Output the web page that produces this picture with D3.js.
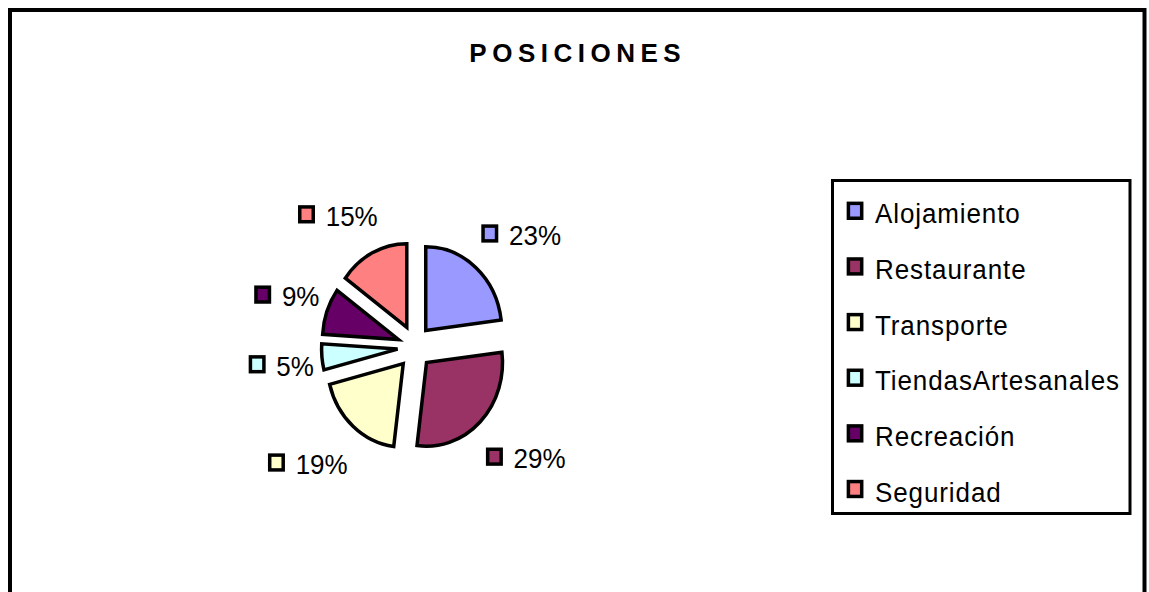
<!DOCTYPE html>
<html>
<head>
<meta charset="utf-8">
<script src="https://cdn.jsdelivr.net/npm/d3@7"></script>
<style>
  html, body { margin: 0; padding: 0; background: #fff; }
  svg { display: block; }
</style>
</head>
<body>
<svg id="chart" width="1149" height="592"></svg>
<script>
const title = "POSICIONES";
const categories = ["Alojamiento", "Restaurante", "Transporte", "TiendasArtesanales", "Recreación", "Seguridad"];
const values = [23, 29, 19, 5, 9, 15];
const colors = ["#9999FF", "#993366", "#FFFFCC", "#CCFFFF", "#660066", "#FF8080"];

const FONT = "'Liberation Sans', Arial, sans-serif";
const TEXT_STRETCH = 1.06;

const svg = d3.select("#chart");

// outer frame
svg.append("rect")
  .attr("x", 10).attr("y", 10)
  .attr("width", 1134.5).attr("height", 620)
  .attr("fill", "#fff").attr("stroke", "#000").attr("stroke-width", 4);

// title
const TITLE_LS = 5.5;
const titleText = svg.append("text")
  .attr("font-family", FONT).attr("font-weight", "bold")
  .attr("font-size", 26).attr("letter-spacing", TITLE_LS)
  .attr("fill", "#000")
  .text(title);
const tLen = titleText.node().getComputedTextLength();
titleText.attr("transform", `translate(${575 - (tLen - TITLE_LS) / 2},61.7)`);

// pie
const cx = 414.5, cy = 347, r = 76, ky = 1.1, explode = 17, kyExplode = 1.3;
const total = d3.sum(values);
const pieData = d3.pie().sort(null).value(d => d)(values);
const arc = d3.arc().innerRadius(0).outerRadius(r);
const color = d3.scaleOrdinal().domain(categories).range(colors);
const fmt = d3.format(".0%");

const pieG = svg.append("g");
pieG.selectAll("g.slice").data(pieData).enter().append("g")
  .attr("class", "slice")
  .attr("transform", d => {
    const b = (d.startAngle + d.endAngle) / 2;
    const ox = explode * Math.sin(b), oy = -explode * kyExplode * Math.cos(b);
    return `translate(${cx + ox},${cy + oy}) scale(1,${ky})`;
  })
  .append("path")
  .attr("d", arc)
  .attr("fill", (d, i) => color(categories[i]))
  .attr("stroke", "#000").attr("stroke-width", 3.5)
  .attr("stroke-linejoin", "miter")
  .attr("vector-effect", "non-scaling-stroke");

// data labels (swatch + percent), placed outside each slice
const labRx = 101, labRy = 136;
const labG = svg.append("g");
const clamp = v => Math.max(-1, Math.min(1, v));
pieData.forEach((d, i) => {
  const b = (d.startAngle + d.endAngle) / 2;
  const g = labG.append("g");
  const t = g.append("text")
    .attr("font-family", FONT).attr("font-size", 26).attr("fill", "#000")
    .text(fmt(d.value / total));
  const tw = t.node().getComputedTextLength();
  const sw = 17, gap = 10.7, bh = 21;
  const w = sw + gap + tw;
  const sb = Math.sin(b), cb = Math.cos(b);
  const ax = cx + labRx * sb;
  const ay = cy - labRy * cb + (cb < 0 ? 4 : 0);
  const sx = clamp(sb * 1.7);
  const sy = clamp(-cb * 1.5);
  const mx = ax + sx * w / 2;
  const my = ay + sy * bh / 2;
  const left = mx - w / 2;
  const top = my - bh / 2;
  const swCy = top + 9.5;
  g.append("rect")
    .attr("x", left + 1.75).attr("y", swCy - 7.4)
    .attr("width", 13.5).attr("height", 14.8)
    .attr("fill", color(categories[i]))
    .attr("stroke", "#000").attr("stroke-width", 3.5);
  t.attr("transform", `translate(${left + sw + gap},${swCy + 11.5}) scale(1,${TEXT_STRETCH})`);
});

// legend
const legX = 832.5, legY = 180.5, legW = 297.5, legH = 333;
svg.append("rect")
  .attr("x", legX).attr("y", legY).attr("width", legW).attr("height", legH)
  .attr("fill", "#fff").attr("stroke", "#000").attr("stroke-width", 3);
const row = d3.scalePoint().domain(categories).range([210.8, 489]);
const legG = svg.append("g");
categories.forEach((c, i) => {
  const y = row(c);
  legG.append("rect")
    .attr("x", 848.4).attr("y", y - 7.45)
    .attr("width", 13.3).attr("height", 14.9)
    .attr("fill", color(c))
    .attr("stroke", "#000").attr("stroke-width", 3.5);
  legG.append("text")
    .attr("font-family", FONT).attr("font-size", 26).attr("letter-spacing", 0.9)
    .attr("fill", "#000")
    .attr("transform", `translate(875,${y + 12.5}) scale(1,${TEXT_STRETCH})`)
    .text(c);
});
</script>
</body>
</html>
